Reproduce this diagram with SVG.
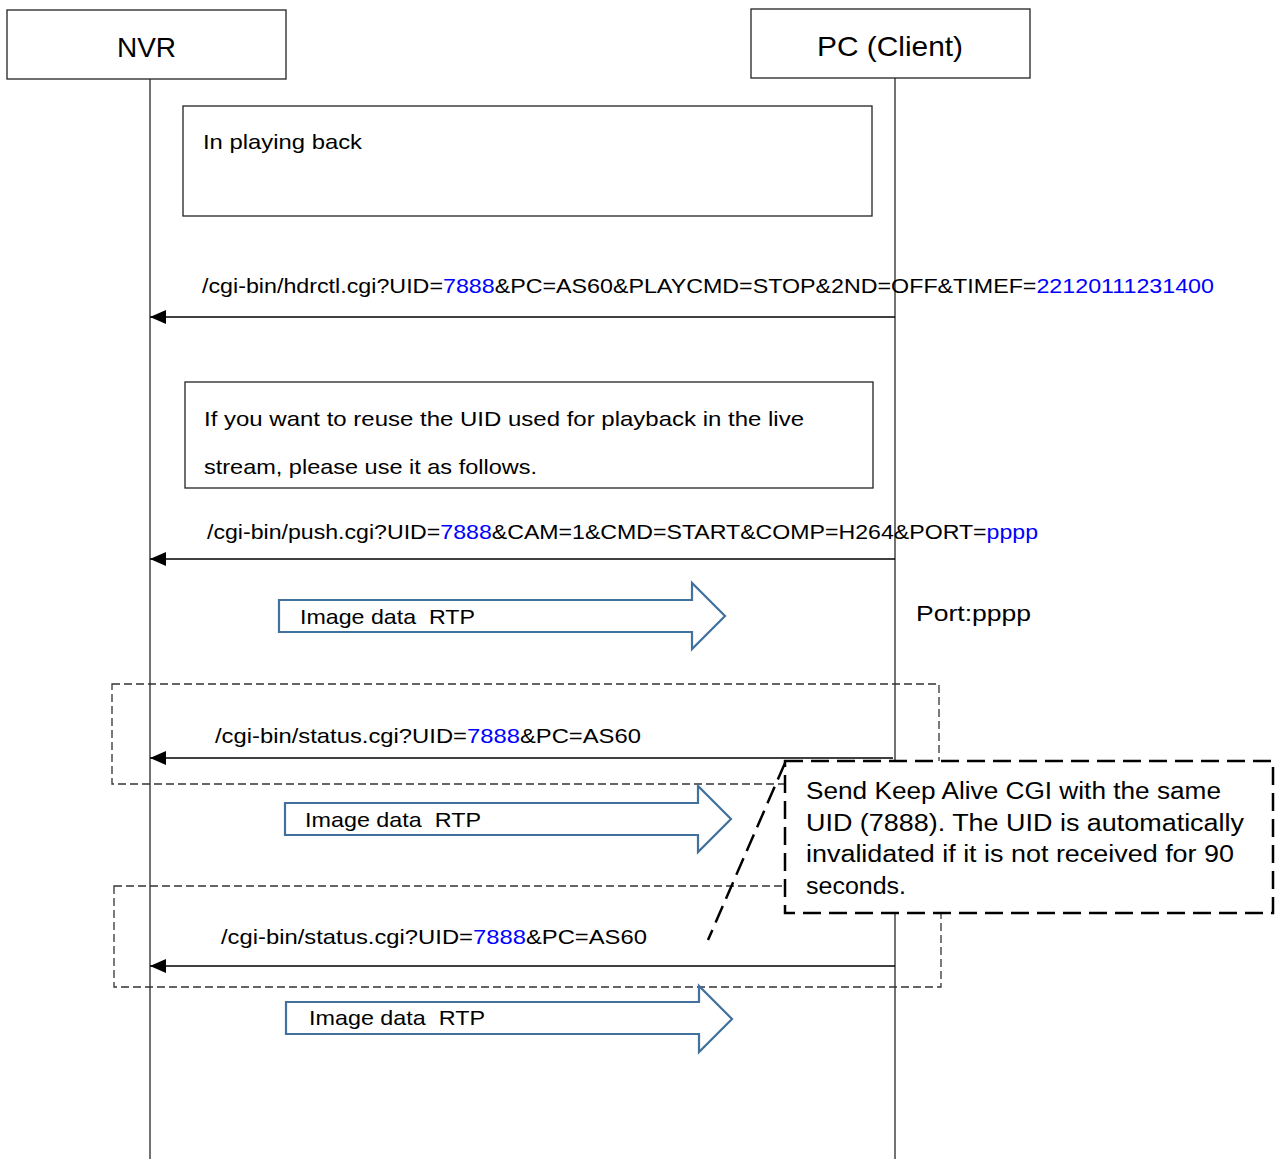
<svg xmlns="http://www.w3.org/2000/svg" width="1278" height="1159" viewBox="0 0 1278 1159">
<defs>
<style>
.t{font-family:"Liberation Sans",Arial,sans-serif;fill:#000;}
.hd{font-size:28px;}
.lb{font-size:21px;}
.bl{fill:#0000ff;}
.pre{white-space:pre;}
.box{fill:#fff;stroke:#222;stroke-width:1.3;}
.life{stroke:#444;stroke-width:1.5;fill:none;}
.msg{stroke:#000;stroke-width:1.3;fill:none;marker-end:url(#ah);}
.grp{fill:none;stroke:#333;stroke-width:1.3;stroke-dasharray:8 4;}
.blk{fill:#fff;stroke:#41719c;stroke-width:2.2;}
.call{fill:#fff;stroke:#000;stroke-width:2.5;stroke-dasharray:18 8;}
</style>
<marker id="ah" markerWidth="16" markerHeight="14" refX="16" refY="7" orient="auto" markerUnits="userSpaceOnUse">
<path d="M0,0 L16,7 L0,14 Z" fill="#000"/>
</marker>
</defs>
<rect width="1278" height="1159" fill="#fff"/>
<g id="lifelines">
<line class="life" x1="150" y1="79" x2="150" y2="1159"/>
<line class="life" x1="895" y1="78" x2="895" y2="1159"/>
</g>
<g id="nvr"><rect class="box" x="7" y="10" width="279" height="69"/><text class="t hd" x="146.5" y="57" text-anchor="middle">NVR</text></g>
<g id="pc"><rect class="box" x="751" y="9" width="279" height="69"/><text class="t hd" x="890" y="56" text-anchor="middle" textLength="146" lengthAdjust="spacingAndGlyphs">PC (Client)</text></g>
<g id="note1"><rect class="box" x="183" y="106" width="689" height="110"/><text class="t lb" x="203" y="149" textLength="159" lengthAdjust="spacingAndGlyphs">In playing back</text></g>
<g id="note2"><rect class="box" x="185" y="382" width="688" height="106"/>
<text class="t lb" x="204" y="426" textLength="600" lengthAdjust="spacingAndGlyphs">If you want to reuse the UID used for playback in the live</text>
<text class="t lb" x="204" y="474" textLength="333" lengthAdjust="spacingAndGlyphs">stream, please use it as follows.</text></g>
<g id="group1"><rect class="grp" x="112" y="684" width="827" height="100"/></g>
<g id="group2"><rect class="grp" x="114" y="886" width="827" height="101"/></g>
<g id="connectors">
<line class="msg" x1="895" y1="317" x2="150" y2="317"/>
<line class="msg" x1="895" y1="559" x2="150" y2="559"/>
<line class="msg" x1="893" y1="758" x2="150" y2="758"/>
<line class="msg" x1="895" y1="966" x2="150" y2="966"/>
</g>
<g id="labels">
<text class="t lb" x="202" y="293" textLength="1012" lengthAdjust="spacingAndGlyphs">/cgi-bin/hdrctl.cgi?UID=<tspan class="bl">7888</tspan>&amp;PC=AS60&amp;PLAYCMD=STOP&amp;2ND=OFF&amp;TIMEF=<tspan class="bl">22120111231400</tspan></text>
<text class="t lb" x="207" y="539" textLength="831" lengthAdjust="spacingAndGlyphs">/cgi-bin/push.cgi?UID=<tspan class="bl">7888</tspan>&amp;CAM=1&amp;CMD=START&amp;COMP=H264&amp;PORT=<tspan class="bl">pppp</tspan></text>
<text class="t lb" x="215" y="743" textLength="426" lengthAdjust="spacingAndGlyphs">/cgi-bin/status.cgi?UID=<tspan class="bl">7888</tspan>&amp;PC=AS60</text>
<text class="t lb" x="221" y="944" textLength="426" lengthAdjust="spacingAndGlyphs">/cgi-bin/status.cgi?UID=<tspan class="bl">7888</tspan>&amp;PC=AS60</text>
<text class="t" style="font-size:22px" x="916" y="621" textLength="115" lengthAdjust="spacingAndGlyphs">Port:pppp</text>
</g>
<g id="rtp1"><path class="blk" d="M279,600 H692 V583 L725,616 L692,649 V632 H279 Z"/><text class="t lb pre" x="300" y="624" textLength="175" lengthAdjust="spacingAndGlyphs">Image data  RTP</text></g>
<g id="rtp2"><path class="blk" d="M285,803 H698 V786 L731,819 L698,852 V835 H285 Z"/><text class="t lb pre" x="305" y="827" textLength="176" lengthAdjust="spacingAndGlyphs">Image data  RTP</text></g>
<g id="rtp3"><path class="blk" d="M286,1002 H699 V986 L732,1019 L699,1052 V1034 H286 Z"/><text class="t lb pre" x="309" y="1025" textLength="176" lengthAdjust="spacingAndGlyphs">Image data  RTP</text></g>
<g id="callout">
<line x1="785" y1="763" x2="708" y2="940" stroke="#000" stroke-width="2.5" stroke-dasharray="18 8"/>
<rect class="call" x="785" y="761" width="488" height="152"/>
<text class="t" style="font-size:23px" x="806" y="799" textLength="415" lengthAdjust="spacingAndGlyphs">Send Keep Alive CGI with the same</text>
<text class="t" style="font-size:23px" x="806" y="831" textLength="438" lengthAdjust="spacingAndGlyphs">UID (7888). The UID is automatically</text>
<text class="t" style="font-size:23px" x="806" y="862" textLength="428" lengthAdjust="spacingAndGlyphs">invalidated if it is not received for 90</text>
<text class="t" style="font-size:23px" x="806" y="894" textLength="100" lengthAdjust="spacingAndGlyphs">seconds.</text>
</g>
</svg>
